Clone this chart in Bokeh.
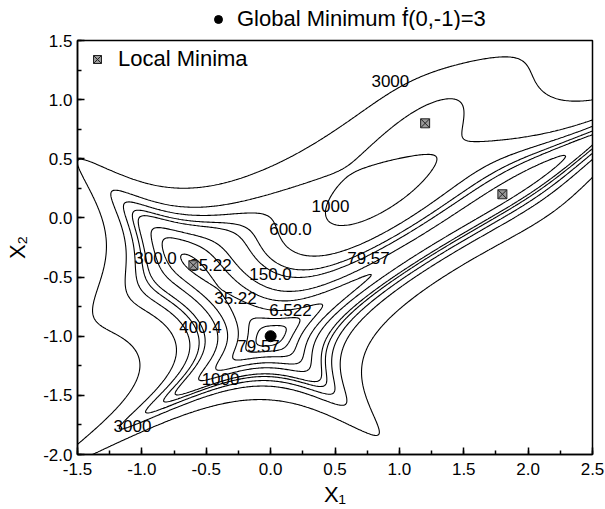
import numpy as np
from bokeh.plotting import figure
from bokeh.layouts import column
from bokeh.models import (SingleIntervalTicker, NumeralTickFormatter, Legend, LegendItem,
                          ColumnDataSource, Range1d)
from bokeh.core.properties import value
from bokeh.embed import file_html
from bokeh.resources import INLINE

# ---- data ----
contour_levels = [6.522, 15.0, 35.22, 79.57, 150.0, 300.0, 400.4, 600.0, 1000.0, 3000.0]
label_text = ["3000", "1000", "600.0", "300.0", "35.22", "150.0", "79.57", "35.22", "6.522", "400.4", "79.57", "1000", "3000"]
label_x = [0.93, 0.465, 0.154, -0.894, -0.467, -0.001, 0.76, -0.273, 0.154, -0.545, -0.094, -0.389, -1.073]
label_y = [1.16, 0.10, -0.09, -0.34, -0.40, -0.47, -0.34, -0.68, -0.78, -0.92, -1.08, -1.36, -1.76]
global_min_x = [0.0]
global_min_y = [-1.0]
local_min_x = [-0.6, 1.2, 1.8]
local_min_y = [-0.4, 0.8, 0.2]
x_limits = (-1.5, 2.5)
y_limits = (-2.0, 1.5)
global_label = "Global Minimum \u1e1f(0,-1)=3"
local_label = "Local Minima"

# Goldstein-Price test function (the function whose contours are shown)
gx = np.linspace(x_limits[0], x_limits[1], 401)
gy = np.linspace(y_limits[0], y_limits[1], 351)
X, Y = np.meshgrid(gx, gy)
Z = (1 + (X + Y + 1) ** 2 * (19 - 14 * X + 3 * X ** 2 - 14 * Y + 6 * X * Y + 3 * Y ** 2)) * \
    (30 + (2 * X - 3 * Y) ** 2 * (18 - 32 * X + 12 * X ** 2 + 48 * Y - 36 * X * Y + 27 * Y ** 2))

FONT = "Liberation Sans"

# ---- top strip holding the "Global Minimum" legend (outside the frame) ----
top = figure(width=605, height=30, output_backend="svg", toolbar_location=None,
             x_range=Range1d(0, 1), y_range=Range1d(0, 1),
             min_border_left=0, min_border_right=0, min_border_top=0, min_border_bottom=0)
top.xaxis.visible = False
top.yaxis.visible = False
top.xgrid.visible = False
top.ygrid.visible = False
top.outline_line_color = None
top.background_fill_color = "white"
top.border_fill_color = "white"
# the key glyph; its point (0,-1) lies outside this strip's range, so only the legend key shows
gm_key = top.scatter(global_min_x, global_min_y, marker="circle", size=11,
                     fill_color="black", line_color="black")
leg_global = Legend(items=[LegendItem(label=global_label, renderers=[gm_key])],
                    location=(131, -2), label_text_font=FONT, label_text_font_size="22px",
                    label_text_color="black",
                    background_fill_alpha=0, border_line_alpha=0, padding=0, margin=0,
                    glyph_width=20, glyph_height=20, label_height=20, label_standoff=9, spacing=0)
top.add_layout(leg_global, "center")

# ---- main contour plot ----
p = figure(width=605, height=479, output_backend="svg", toolbar_location=None,
           x_range=Range1d(*x_limits), y_range=Range1d(*y_limits),
           min_border_left=77, min_border_right=13, min_border_top=10, min_border_bottom=55)
p.background_fill_color = "white"
p.border_fill_color = "white"
p.outline_line_color = "black"
p.outline_line_width = 1.5
p.xgrid.visible = False
p.ygrid.visible = False

p.contour(gx, gy, Z, contour_levels, line_color="black", line_width=1.1)

src = ColumnDataSource(dict(x=label_x, y=label_y, t=label_text))
p.text(x="x", y="y", text="t", source=src, text_font=value(FONT), text_font_size="17px",
       text_align="center", text_baseline="middle", text_color="black")

gm = p.scatter(global_min_x, global_min_y, marker="circle", size=11, fill_color="black", line_color="black")
lm = p.scatter(local_min_x, local_min_y, marker="square_x", size=9, fill_color="#999999",
               line_color="#222222", line_width=1)

for ax in (p.xaxis[0], p.yaxis[0]):
    ax.ticker = SingleIntervalTicker(interval=0.5, num_minor_ticks=2)
    ax.formatter = NumeralTickFormatter(format="0.0")
    ax.major_tick_in = 7
    ax.major_tick_out = 0
    ax.minor_tick_in = 4
    ax.minor_tick_out = 0
    ax.major_tick_line_width = 1.5
    ax.minor_tick_line_width = 1.5
    ax.axis_line_width = 1.5
    ax.major_label_text_font = FONT
    ax.major_label_text_font_size = "17px"
    ax.major_label_text_color = "black"
    ax.axis_label_text_font = FONT
    ax.axis_label_text_font_size = "22px"
    ax.axis_label_text_font_style = "normal"
    ax.axis_label_text_color = "black"

p.xaxis.major_label_standoff = 8
p.yaxis.major_label_standoff = 5
p.xaxis.axis_label = "X\u2081"
p.yaxis.axis_label = "X\u2082"
p.xaxis.axis_label_standoff = 4
p.yaxis.axis_label_standoff = 10
p.yaxis.major_label_orientation = "horizontal"

leg_local = Legend(items=[LegendItem(label=local_label, renderers=[lm])], location="top_left",
                   label_text_font=FONT, label_text_font_size="22px", label_text_color="black",
                   background_fill_alpha=0, border_line_alpha=0, padding=0, margin=6,
                   glyph_width=28, label_standoff=7, spacing=0)
p.add_layout(leg_local, "center")

layout = column(top, p, spacing=0)
open("out.html", "w").write(file_html(layout, INLINE))
